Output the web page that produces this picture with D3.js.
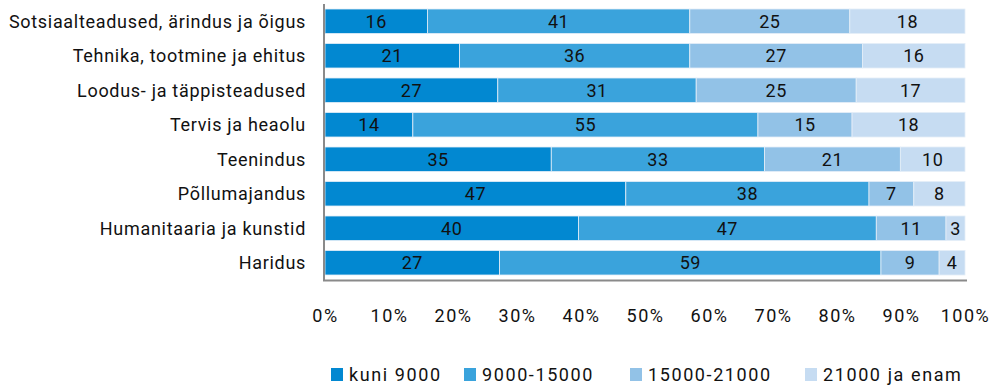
<!DOCTYPE html>
<html><head><meta charset="utf-8">
<script src="https://cdn.jsdelivr.net/npm/d3@7"></script>
<style>body{margin:0;background:#fff}svg{display:block}text{font-family:Roboto,"Noto Sans",sans-serif}</style>
</head><body><svg id="c" width="1001" height="386"></svg>
<script>
const categories = ["Sotsiaalteadused, ärindus ja õigus","Tehnika, tootmine ja ehitus","Loodus- ja täppisteadused","Tervis ja heaolu","Teenindus","Põllumajandus","Humanitaaria  ja kunstid","Haridus"];
const seriesNames = ["kuni 9000","9000-15000","15000-21000","21000 ja enam"];
const s1 = [16,21,27,14,35,47,40,27];
const s2 = [41,36,31,55,33,38,47,59];
const s3 = [25,27,25,15,21,7,11,9];
const s4 = [18,16,17,18,10,8,3,4];
const tickValues = [0,10,20,30,40,50,60,70,80,90,100];
const colors = ["#0288d1","#3aa3dc","#92c2e7","#c6dcf2"];

const svg = d3.select("#c");
const x = d3.scaleLinear().domain([0,100]).range([325,965]);
const y = d3.scaleBand().domain(categories).range([4,280]).paddingInner(0.29).paddingOuter(0.145);
const series = [s1,s2,s3,s4];

categories.forEach((c,i)=>{
  const vals = series.map(s=>s[i]);
  const tot = d3.sum(vals);
  let cum = 0;
  vals.forEach((v,j)=>{
    const x0 = x(cum/tot*100), x1 = x((cum+v)/tot*100);
    svg.append("rect").attr("x",x0).attr("y",y(c)).attr("width",x1-x0).attr("height",y.bandwidth())
      .attr("fill",colors[j]).attr("stroke","#e4eef8").attr("stroke-width",0.8);
    svg.append("text").attr("x",(x0+x1)/2).attr("y",y(c)+y.bandwidth()/2).attr("dy","0.36em")
      .attr("text-anchor","middle").attr("font-size",18).attr("letter-spacing",0.5).attr("fill","#111").text(v);
    cum += v;
  });
  svg.append("text").attr("x",306).attr("y",y(c)+y.bandwidth()/2).attr("dy","0.36em")
    .attr("text-anchor","end").attr("font-size",18).attr("letter-spacing",0.7).attr("fill","#111").text(c);
});

// axes lines
svg.append("line").attr("x1",324).attr("x2",324).attr("y1",4).attr("y2",281).attr("stroke","#8a8a8a").attr("stroke-width",2);
svg.append("line").attr("x1",323).attr("x2",967).attr("y1",280.5).attr("y2",280.5).attr("stroke","#8a8a8a").attr("stroke-width",2);

const xAxis = d3.axisBottom(x).tickValues(tickValues).tickFormat(d=>d+"%").tickSize(0).tickPadding(0);
const ga = svg.append("g").attr("transform","translate(0,310)").call(xAxis);
ga.select(".domain").remove();
ga.selectAll("text").attr("font-size",18).attr("letter-spacing",1.5).attr("fill","#111").attr("dy","0.36em").attr("y",6).attr("font-family","Roboto,'Noto Sans',sans-serif");

const legX = [331,464,630,805];
seriesNames.forEach((n,j)=>{
  svg.append("rect").attr("x",legX[j]).attr("y",368).attr("width",12).attr("height",13).attr("fill",colors[j]);
  svg.append("text").attr("x",legX[j]+18).attr("y",375).attr("dy","0.36em").attr("font-size",18).attr("letter-spacing",1.6).attr("fill","#111").text(n);
});
</script></body></html>
